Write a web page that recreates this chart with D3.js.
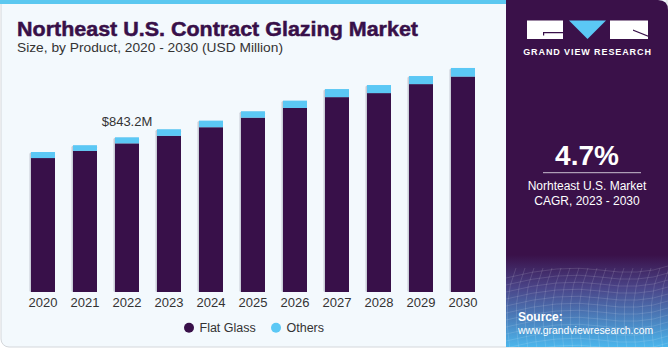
<!DOCTYPE html>
<html><head><meta charset="utf-8">
<script src="https://cdn.jsdelivr.net/npm/d3@7"></script>
<style>
html,body{margin:0;padding:0;background:#fff;}
svg{display:block;font-family:"Liberation Sans",Arial,sans-serif;}
</style></head>
<body>
<svg id="chart" width="670" height="350"></svg>
<script>
const years = ["2020","2021","2022","2023","2024","2025","2026","2027","2028","2029","2030"];
const flatGlass = [730, 769, 810, 851, 898, 950, 1003, 1062, 1084, 1133, 1174];
const others = [33, 31, 33, 36, 36, 35, 40, 44, 44, 44, 47];
const seriesNames = ["Flat Glass", "Others"];
const seriesColors = ["#381049", "#5bc8f5"];
const annotationYear = "2022";
const annotationText = "$843.2M";

const svg = d3.select("#chart");
const defs = svg.append("defs");

// background frame
svg.append("rect").attr("x",1).attr("y",-10).attr("width",666).attr("height",357)
  .attr("rx",8).attr("fill","#f3f9fd").attr("stroke","#d4d7db").attr("stroke-width",1);
svg.append("rect").attr("x",0).attr("y",0).attr("width",506).attr("height",4).attr("fill","#5bc8f0");

// right panel
const grad = defs.append("linearGradient").attr("id","pg").attr("gradientUnits","userSpaceOnUse")
  .attr("x1",0).attr("y1",255).attr("x2",0).attr("y2",348);
grad.append("stop").attr("offset",0).attr("stop-color","#3a1149");
grad.append("stop").attr("offset",0.35).attr("stop-color","#4a4488");
grad.append("stop").attr("offset",1).attr("stop-color","#4bb8ee");
defs.append("clipPath").attr("id","pc").append("path")
  .attr("d","M506,0 H658 Q668,0 668,10 V347 H506 Z");
const panel = svg.append("g").attr("clip-path","url(#pc)");
panel.append("rect").attr("x",506).attr("y",0).attr("width",162).attr("height",348).attr("fill","url(#pg)");
// decorative mesh
const mesh = panel.append("g").attr("stroke","#ffffff").attr("stroke-opacity",0.18).attr("fill","none").attr("stroke-width",0.7);
for (let i=0;i<12;i++){
  const y0 = 270 + i*7;
  mesh.append("path").attr("d",`M506,${y0+8} Q560,${y0-6} 600,${y0} T668,${y0-4}`);
}
for (let j=0;j<20;j++){
  const x0 = 506 + j*9;
  mesh.append("path").attr("d",`M${x0+10},268 Q${x0-4},300 ${x0+4},350`);
}

// logo
svg.append("rect").attr("x",527).attr("y",20.5).attr("width",36).attr("height",18.5).attr("fill","#fff");
svg.append("path").attr("d","M543,32 H563 V33.2 H544.2 V35.5 H543 Z").attr("fill","#381049");
svg.append("path").attr("d","M569,20.5 H606 L587.5,39 Z").attr("fill","#5bc8f5");
svg.append("rect").attr("x",610).attr("y",20.5).attr("width",38).attr("height",18.5).attr("fill","#fff");
svg.append("path").attr("d","M633,29.5 L648,35.5 L648,36.8 L633,30.8 Z").attr("fill","#381049");
svg.append("text").attr("x",587.5).attr("y",54.5).attr("text-anchor","middle")
  .attr("fill","#fff").attr("font-size",9).attr("font-weight","bold").attr("letter-spacing",0.9)
  .text("GRAND VIEW RESEARCH");

// CAGR
svg.append("text").attr("x",587).attr("y",165).attr("text-anchor","middle").attr("fill","#fff")
  .attr("font-size",28).attr("font-weight","bold").text("4.7%");
svg.append("line").attr("x1",543).attr("x2",641).attr("y1",172.7).attr("y2",172.7)
  .attr("stroke","#c9bfd0").attr("stroke-width",1);
svg.append("text").attr("x",587).attr("y",190).attr("text-anchor","middle").attr("fill","#fff")
  .attr("font-size",12).text("Norhteast U.S. Market");
svg.append("text").attr("x",587).attr("y",204.5).attr("text-anchor","middle").attr("fill","#fff")
  .attr("font-size",12).text("CAGR, 2023 - 2030");

// source
svg.append("text").attr("x",518).attr("y",320.5).attr("fill","#fff").attr("font-size",12)
  .attr("font-weight","bold").text("Source:");
svg.append("text").attr("x",518).attr("y",333.5).attr("fill","#fff").attr("font-size",10.4)
  .text("www.grandviewresearch.com");

// titles
svg.append("text").attr("x",17).attr("y",35.7).attr("fill","#381049").attr("font-size",21)
  .attr("font-weight","bold").attr("textLength",401).attr("lengthAdjust","spacingAndGlyphs")
  .attr("stroke","#381049").attr("stroke-width",0.5)
  .text("Northeast U.S. Contract Glazing Market");
svg.append("text").attr("x",17).attr("y",52.3).attr("fill","#333").attr("font-size",13.5)
  .attr("textLength",266).attr("lengthAdjust","spacingAndGlyphs")
  .text("Size, by Product, 2020 - 2030 (USD Million)");

// scales
const x = d3.scaleBand().domain(years).range([22,484]).paddingInner(18/42).paddingOuter(9/42);
const y = d3.scaleLinear().domain([0,1300]).range([292, 292 - 1300/5.45]);

const data = years.map((yr,i)=>({year:yr, "Flat Glass":flatGlass[i], "Others":others[i]}));
const stacked = d3.stack().keys(seriesNames)(data);

const gBars = svg.append("g");
// faint shadow
gBars.selectAll("rect.sh").data(data).join("rect").attr("class","sh")
  .attr("x",d=>x(d.year)-1.5).attr("width",x.bandwidth()+1.5)
  .attr("y",d=>y(d["Flat Glass"]+d["Others"])+0.5)
  .attr("height",d=>292-y(d["Flat Glass"]+d["Others"])-0.5)
  .attr("fill","#c8ccd6").attr("rx",1.5);
stacked.forEach((s,si)=>{
  gBars.selectAll("rect.s"+si).data(s).join("rect").attr("class","s"+si)
    .attr("x",d=>x(d.data.year)).attr("width",x.bandwidth())
    .attr("y",d=>y(d[1])).attr("height",d=>y(d[0])-y(d[1]))
    .attr("fill",seriesColors[si]);
});

// annotation
const ai = years.indexOf(annotationYear);
svg.append("text").attr("x",x(annotationYear)+x.bandwidth()/2).attr("y",y(flatGlass[ai]+others[ai])-11.5)
  .attr("text-anchor","middle").attr("fill","#333").attr("font-size",13).text(annotationText);

// axis
const ax = svg.append("g").attr("transform","translate(0,292)")
  .call(d3.axisBottom(x).tickSize(0).tickPadding(6));
ax.select(".domain").remove();
ax.selectAll("text").attr("font-size",13).attr("fill","#333").attr("font-family","Liberation Sans, Arial, sans-serif");

// legend
const lg = svg.append("g");
const legendPos = [189, 276];
seriesNames.forEach((n,i)=>{
  lg.append("circle").attr("cx",legendPos[i]).attr("cy",327.7).attr("r",5).attr("fill",seriesColors[i]);
  lg.append("text").attr("x",legendPos[i]+10.5).attr("y",332.2).attr("fill","#333").attr("font-size",12.5).text(n);
});
</script>
</body></html>
